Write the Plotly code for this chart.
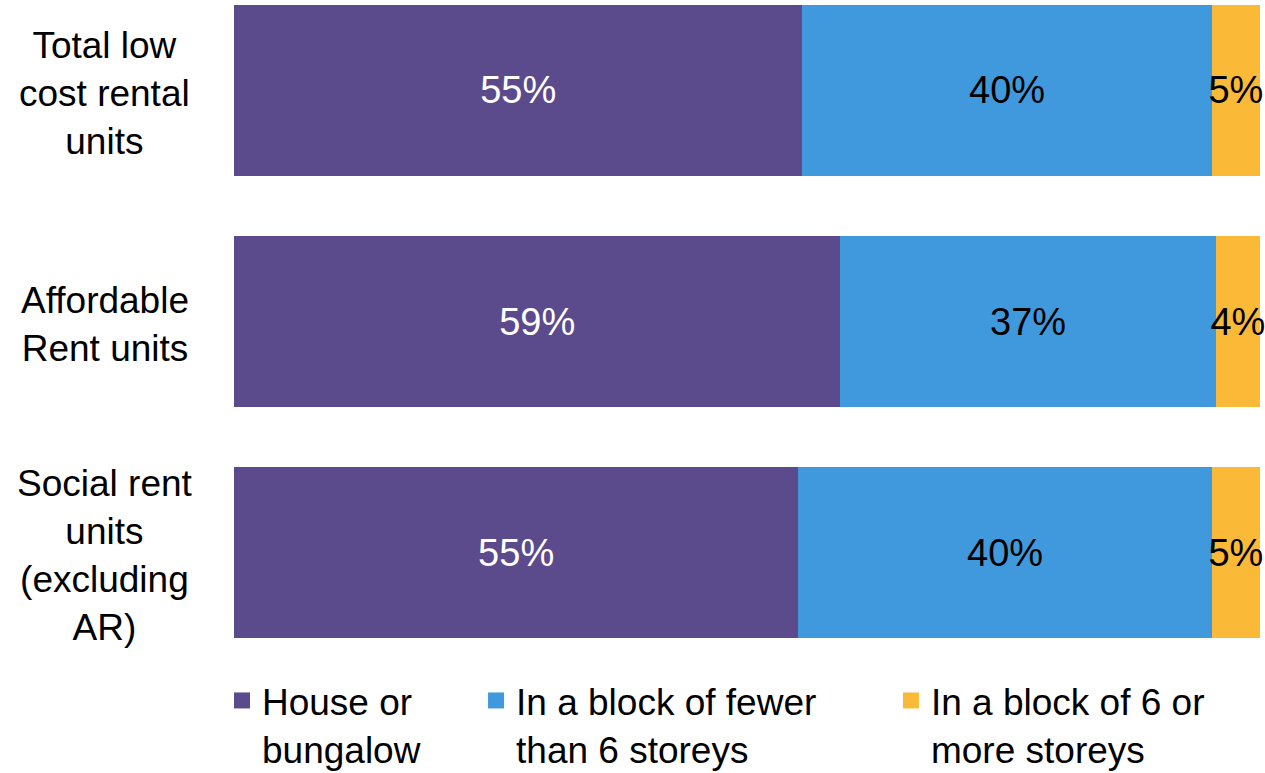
import plotly.graph_objects as go

categories = ["Total low<br>cost rental<br>units", "Affordable<br>Rent units", "Social rent<br>units<br>(excluding<br>AR)"]
series_names = ["House or<br>bungalow", "In a block of fewer<br>than 6 storeys", "In a block of 6 or<br>more storeys"]
house = [55.4, 59.1, 55.0]
block_small = [39.9, 36.6, 40.3]
block_large = [4.7, 4.3, 4.7]
colors = ["#5B4A8C", "#4199DD", "#FABA37"]
text_colors = ["white", "black", "black"]

FONT = "Liberation Sans, Arial, sans-serif"
yidx = list(range(len(categories)))
legend_ids = ["legend", "legend2", "legend3"]
legend_x = [-0.0117, 0.2359, 0.6403]

fig = go.Figure()
for name, vals, col, tcol, lid in zip(series_names, [house, block_small, block_large], colors, text_colors, legend_ids):
    fig.add_trace(go.Bar(
        y=yidx, x=vals, name=name, orientation="h",
        marker=dict(color=col, line=dict(width=0)),
        texttemplate="%{x:.0f}%", textposition="inside", insidetextanchor="middle",
        textangle=0, constraintext="none", cliponaxis=False,
        textfont=dict(color=tcol, size=38, family=FONT),
        showlegend=False, hoverinfo="skip",
    ))
    # legend entry with a larger square swatch
    fig.add_trace(go.Scatter(
        x=[None], y=[None], mode="markers", name=name,
        marker=dict(symbol="square", size=20, color=col),
        legend=lid, showlegend=True, hoverinfo="skip",
    ))

for i, c in enumerate(categories):
    fig.add_annotation(x=-0.126, xref="paper", y=i, yref="y", yshift=-3, text=c, showarrow=False,
                       xanchor="center", yanchor="middle", align="center",
                       font=dict(size=37, color="black", family=FONT))

leg_common = dict(orientation="h", xanchor="left", y=-0.015, yanchor="top",
                  font=dict(size=37, color="black", family=FONT),
                  itemsizing="trace", valign="top", bgcolor="rgba(0,0,0,0)")
layout_legends = {}
for lid, lx in zip(legend_ids, legend_x):
    layout_legends[lid] = dict(leg_common, x=lx)

fig.update_layout(
    barmode="stack", bargap=0.26,
    width=1265, height=773,
    margin=dict(l=234, r=5, t=0, b=113, autoexpand=False),
    plot_bgcolor="white", paper_bgcolor="white",
    xaxis=dict(range=[0, 100], visible=False),
    yaxis=dict(range=[2.463, -0.391], visible=False),
    showlegend=True,
    font=dict(family=FONT),
    **layout_legends,
)
fig.write_html("out.html", config={"displayModeBar": False},
               post_script="document.body.style.margin='0';")
